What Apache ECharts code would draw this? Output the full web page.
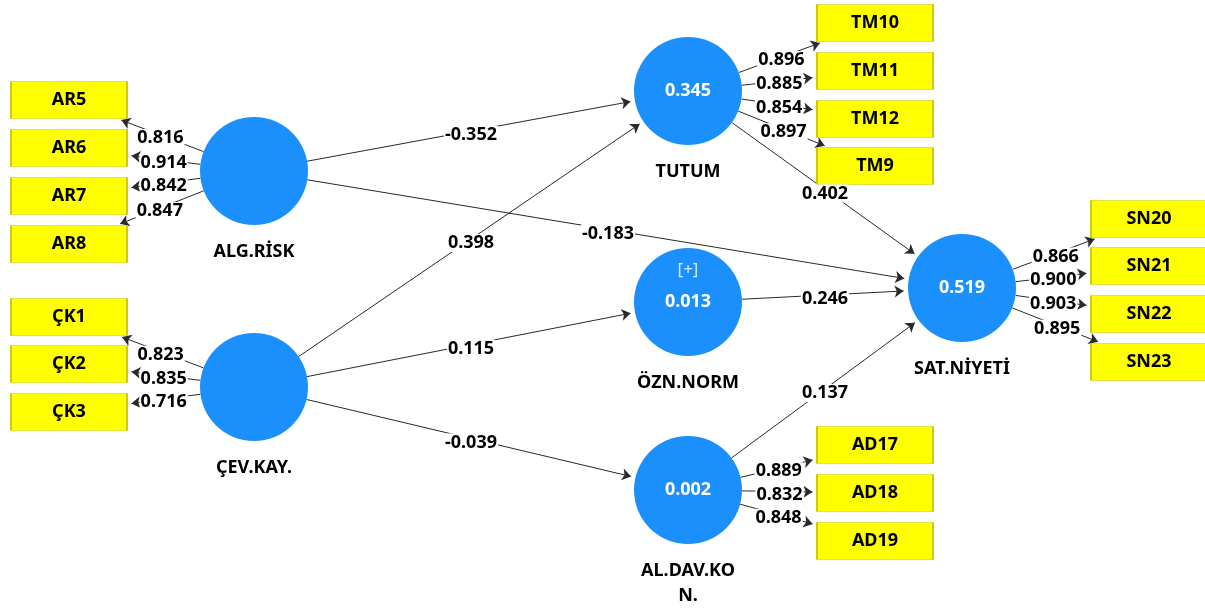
<!DOCTYPE html>
<html><head><meta charset="utf-8">
<script src="https://cdn.jsdelivr.net/npm/echarts@6/dist/echarts.min.js"></script>
<style>html,body{margin:0;padding:0;background:#fff}#c{width:1205px;height:612px}</style>
</head><body><div id="c"></div><script>
// ---------- data ----------
const constructNames = ['ALG.RİSK','ÇEV.KAY.','TUTUM','ÖZN.NORM','AL.DAV.KON.','SAT.NİYETİ'];
const rSquared = [null, null, 0.345, 0.013, 0.002, 0.519];
const pathFrom = ['ALG.RİSK','ALG.RİSK','ÇEV.KAY.','ÇEV.KAY.','ÇEV.KAY.','TUTUM','ÖZN.NORM','AL.DAV.KON.'];
const pathTo = ['TUTUM','SAT.NİYETİ','TUTUM','ÖZN.NORM','AL.DAV.KON.','SAT.NİYETİ','SAT.NİYETİ','SAT.NİYETİ'];
const pathCoefficients = [-0.352, -0.183, 0.398, 0.115, -0.039, 0.402, 0.246, 0.137];
const indicatorNames = ['AR5','AR6','AR7','AR8','ÇK1','ÇK2','ÇK3','TM10','TM11','TM12','TM9','SN20','SN21','SN22','SN23','AD17','AD18','AD19'];
const indicatorConstruct = ['ALG.RİSK','ALG.RİSK','ALG.RİSK','ALG.RİSK','ÇEV.KAY.','ÇEV.KAY.','ÇEV.KAY.','TUTUM','TUTUM','TUTUM','TUTUM','SAT.NİYETİ','SAT.NİYETİ','SAT.NİYETİ','SAT.NİYETİ','AL.DAV.KON.','AL.DAV.KON.','AL.DAV.KON.'];
const outerLoadings = [0.816, 0.914, 0.842, 0.847, 0.823, 0.835, 0.716, 0.896, 0.885, 0.854, 0.897, 0.866, 0.900, 0.903, 0.895, 0.889, 0.832, 0.848];

// ---------- layout (diagram positions, not data) ----------
const constructLayout = {
  'ALG.RİSK': [254, 171], 'ÇEV.KAY.': [254, 387], 'TUTUM': [688, 91],
  'ÖZN.NORM': [688, 302], 'AL.DAV.KON.': [688, 490], 'SAT.NİYETİ': [962, 288]
};
const constructDisplay = { 'AL.DAV.KON.': 'AL.DAV.KO\nN.' };
const expandMarker = { 'ÖZN.NORM': '[+]' };
const indicatorLayout = {
  AR5: [69, 100], AR6: [69, 148], AR7: [69, 196], AR8: [69, 244],
  'ÇK1': [69, 317], 'ÇK2': [69, 364], 'ÇK3': [69, 412],
  TM10: [875, 23], TM11: [875, 71], TM12: [875, 119], TM9: [875, 166],
  SN20: [1149, 219], SN21: [1149, 266], SN22: [1149, 314], SN23: [1149, 362],
  AD17: [875, 445], AD18: [875, 493], AD19: [875, 541]
};
const R = 54, BW = 116, BH = 37, ARROW = 9, LABEL_DY = 4;
const FONT = 'Noto Sans';
const FS = 18;
const TXT = '#000000';

function circleEdge(c, toward, r) {
  const dx = toward[0] - c[0], dy = toward[1] - c[1], L = Math.hypot(dx, dy);
  return [c[0] + dx / L * r, c[1] + dy / L * r];
}
function rectEdge(c, toward) {
  const dx = toward[0] - c[0], dy = toward[1] - c[1];
  const s = Math.min(dx ? (BW / 2) / Math.abs(dx) : Infinity, dy ? (BH / 2) / Math.abs(dy) : Infinity);
  return [c[0] + dx * s, c[1] + dy * s];
}
function shorten(a, b, d) {
  const dx = b[0] - a[0], dy = b[1] - a[1], L = Math.hypot(dx, dy);
  return [b[0] - dx / L * d, b[1] - dy / L * d];
}

const lineData = [], edgeLabels = [];
pathFrom.forEach((f, i) => {
  const a = constructLayout[f], b = constructLayout[pathTo[i]];
  const s = circleEdge(a, b, R), e = circleEdge(b, a, R);
  lineData.push({ coords: [s, shorten(s, e, ARROW / 2)] });
  edgeLabels.push({ value: [(s[0] + e[0]) / 2, (s[1] + e[1]) / 2 + LABEL_DY], label: { formatter: pathCoefficients[i].toFixed(3) } });
});
indicatorNames.forEach((n, i) => {
  const a = constructLayout[indicatorConstruct[i]], b = indicatorLayout[n];
  const s = circleEdge(a, b, R), e = rectEdge(b, a);
  lineData.push({ coords: [s, shorten(s, e, ARROW / 2)] });
  edgeLabels.push({ value: [(s[0] + e[0]) / 2, (s[1] + e[1]) / 2 + LABEL_DY - 1], label: { formatter: outerLoadings[i].toFixed(3) } });
});

const circleData = constructNames.map(n => ({
  value: constructLayout[n],
  label: { formatter: constructDisplay[n] || n }
}));
const innerData = [];
constructNames.forEach((n, i) => {
  if (rSquared[i] != null) innerData.push({ value: constructLayout[n], label: { formatter: rSquared[i].toFixed(3) } });
  if (expandMarker[n]) innerData.push({ value: constructLayout[n], label: { formatter: expandMarker[n], offset: [0, -32], fontWeight: 'normal', color: '#d6eaff', fontSize: 17 } });
});
const boxData = indicatorNames.map(n => ({ value: indicatorLayout[n], label: { formatter: n } }));

const chart = echarts.init(document.getElementById('c'), null, { renderer: 'canvas' });
chart.setOption({
  animation: false,
  backgroundColor: '#ffffff',
  grid: { left: 0, right: 0, top: 0, bottom: 0 },
  xAxis: { type: 'value', min: 0, max: 1205, show: false },
  yAxis: { type: 'value', min: 0, max: 612, inverse: true, show: false },
  series: [
    {
      type: 'lines', coordinateSystem: 'cartesian2d', z: 1,
      symbol: ['none', 'arrow'], symbolSize: ARROW,
      lineStyle: { color: '#2a2a2a', width: 1, opacity: 1 },
      data: lineData
    },
    {
      type: 'scatter', z: 2, symbol: 'circle', symbolSize: R * 2,
      itemStyle: { color: '#1b8ffb', opacity: 1 },
      label: { show: true, position: 'bottom', distance: 14, color: TXT, opacity: 1, fontFamily: FONT, fontWeight: 'bold', fontSize: FS, lineHeight: 25, align: 'center' },
      data: circleData
    },
    {
      type: 'scatter', z: 3, symbol: 'rect', symbolSize: [BW, BH],
      itemStyle: { color: '#ffff00', borderColor: '#c4c400', borderWidth: 1, opacity: 1 },
      label: { show: true, position: 'inside', color: TXT, opacity: 1, fontFamily: FONT, fontWeight: 'bold', fontSize: FS },
      data: boxData
    },
    {
      type: 'scatter', z: 4, symbolSize: 0, itemStyle: { opacity: 1 },
      label: { show: true, position: 'inside', color: '#ffffff', opacity: 1, fontFamily: FONT, fontWeight: 'bold', fontSize: FS },
      data: innerData
    },
    {
      type: 'scatter', z: 5, symbolSize: 0, itemStyle: { opacity: 1 },
      label: { show: true, position: 'inside', color: TXT, opacity: 1, fontFamily: FONT, fontWeight: 'bold', fontSize: FS, backgroundColor: '#ffffff', padding: [0, 1] },
      data: edgeLabels
    }
  ]
});
</script></body></html>
